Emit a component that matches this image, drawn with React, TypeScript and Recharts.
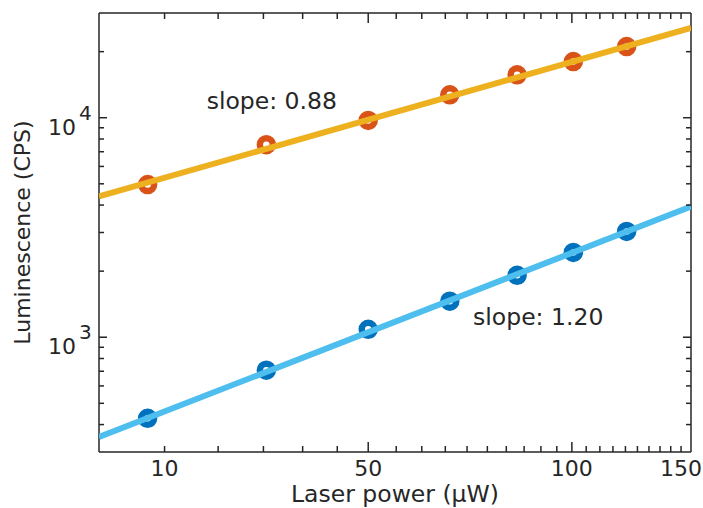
import React from 'react';
import { ComposedChart, Line, XAxis, YAxis, ReferenceDot } from 'recharts';

// ---- data (x is the position on the log-scaled power axis) ----
const powerPos = [4.72, 7.07, 10, 13.2, 16.6, 20.1, 24.1];
const orangeCounts = [4960, 7540, 9720, 12720, 15690, 18030, 21090];
const blueCounts = [427, 708, 1087, 1459, 1914, 2435, 3034];

const fitPos = [4, 30];
const orangeFit = [4380, 25640];
const blueFit = [351, 3940];

const xDomain = [4, 30];
const yDomain = [300, 30000];

const xMinorTicks = [5, 6, 7, 8, 9, 10, 11, 12, 13, 14, 15, 16, 17, 18, 19, 20, 21, 22, 23, 24, 25, 26, 27, 28, 29];
const xLabelTicks = [5, 10, 20, 29];
const xTickLabels = ['10', '50', '100', '150'];
const xLongTicks = [10, 20];

const yTicks = [400, 500, 600, 700, 800, 900, 1000, 2000, 3000, 4000, 5000, 6000, 7000, 8000, 9000, 10000, 20000];
const yMajorTicks = [1000, 10000];
const yExponents = ['3', '4'];

const slopeLabels = ['slope: 0.88', 'slope: 1.20'];
const slopeAnchorX = [5.77, 14.29];
const slopeAnchorY = [10990, 1134];

const orangeData = powerPos.map((x, i) => ({ x, y: orangeCounts[i] }));
const blueData = powerPos.map((x, i) => ({ x, y: blueCounts[i] }));
const orangeFitData = fitPos.map((x, i) => ({ x, y: orangeFit[i] }));
const blueFitData = fitPos.map((x, i) => ({ x, y: blueFit[i] }));

const AXIS = '#262626';
const FONT = '"DejaVu Sans", Verdana, sans-serif';
const ORANGE_M = '#D95319';
const ORANGE_L = '#EDB120';
const BLUE_M = '#0072BD';
const BLUE_L = '#4DBEEE';

const TICK_SIZE = 6;
const TICK_MARGIN = 2;
const OFF = TICK_SIZE + TICK_MARGIN;

const makeXTick = (side: 'bottom' | 'top') => (props: any) => {
  const { x, y, payload } = props;
  const v = payload.value;
  const len = xLongTicks.includes(v) ? 10 : 6;
  const pos = side === 'bottom' ? y - OFF : y + OFF;
  const dir = side === 'bottom' ? -1 : 1;
  const idx = xLabelTicks.indexOf(v);
  return (
    <g>
      <line x1={x} x2={x} y1={pos} y2={pos + dir * len} stroke={AXIS} strokeWidth={1.5} />
      {side === 'bottom' && idx >= 0 && (
        <text x={x} y={pos + 24} textAnchor="middle" fontFamily={FONT} fontSize={22} fill={AXIS}>
          {xTickLabels[idx]}
        </text>
      )}
    </g>
  );
};

const makeYTick = (side: 'left' | 'right') => (props: any) => {
  const { x, y, payload } = props;
  const v = payload.value;
  const mi = yMajorTicks.indexOf(v);
  const len = mi >= 0 ? 8 : 5;
  const pos = side === 'left' ? x + OFF : x - OFF;
  const dir = side === 'left' ? 1 : -1;
  return (
    <g>
      <line x1={pos} x2={pos + dir * len} y1={y} y2={y} stroke={AXIS} strokeWidth={1.5} />
      {side === 'left' && mi >= 0 && (
        <g>
          <text x={pos - 23} y={y + 17} textAnchor="end" fontFamily={FONT} fontSize={22} fill={AXIS}>
            10
          </text>
          <text x={pos - 20} y={y + 2} textAnchor="start" fontFamily={FONT} fontSize={20} fill={AXIS}>
            {yExponents[mi]}
          </text>
        </g>
      )}
    </g>
  );
};

const slopeText = (label: string) => (props: any) => (
  <text x={props.cx} y={props.cy} textAnchor="start" fontFamily={FONT} fontSize={23.5} fill={AXIS}>
    {label}
  </text>
);

const commonX = {
  type: 'number' as const,
  dataKey: 'x',
  scale: 'log' as const,
  domain: xDomain,
  allowDataOverflow: true,
  ticks: xMinorTicks,
  interval: 0 as const,
  tickSize: TICK_SIZE,
  tickMargin: TICK_MARGIN,
  tickLine: false,
  axisLine: { stroke: AXIS, strokeWidth: 1.5 },
};

const commonY = {
  type: 'number' as const,
  dataKey: 'y',
  scale: 'log' as const,
  domain: yDomain,
  allowDataOverflow: true,
  ticks: yTicks,
  interval: 0 as const,
  tickSize: TICK_SIZE,
  tickMargin: TICK_MARGIN,
  tickLine: false,
  axisLine: { stroke: AXIS, strokeWidth: 1.5 },
};

export default function App() {
  return (
    <div style={{ position: 'absolute', left: 0, top: 0, background: '#fff' }}>
      <ComposedChart width={703} height={508} margin={{ top: 12, right: 11, left: 0, bottom: 0 }}>
        <XAxis
          xAxisId={0}
          {...commonX}
          tick={makeXTick('bottom')}
          height={56}
          label={{ value: 'Laser power (μW)', position: 'insideBottom', offset: 6, fontFamily: FONT, fontSize: 23.5, fill: AXIS }}
        />
        <XAxis xAxisId="top" orientation="top" {...commonX} tick={makeXTick('top')} height={1} />
        <YAxis
          yAxisId={0}
          {...commonY}
          tick={makeYTick('left')}
          width={99}
          label={{ value: 'Luminescence (CPS)', angle: -90, position: 'insideLeft', offset: 22, style: { textAnchor: 'middle' }, fontFamily: FONT, fontSize: 22, fill: AXIS }}
        />
        <YAxis yAxisId="right" orientation="right" {...commonY} tick={makeYTick('right')} width={1} />
        <Line
          data={orangeData}
          dataKey="y"
          stroke="none"
          strokeWidth={0}
          dot={{ r: 6.5, stroke: ORANGE_M, strokeWidth: 6.5, fill: 'none' }}
          activeDot={false}
          isAnimationActive={false}
        />
        <Line
          data={blueData}
          dataKey="y"
          stroke="none"
          strokeWidth={0}
          dot={{ r: 6.5, stroke: BLUE_M, strokeWidth: 6.5, fill: 'none' }}
          activeDot={false}
          isAnimationActive={false}
        />
        <Line
          data={orangeFitData}
          dataKey="y"
          type="linear"
          stroke={ORANGE_L}
          strokeWidth={6}
          dot={false}
          activeDot={false}
          isAnimationActive={false}
          zIndex={700}
        />
        <Line
          data={blueFitData}
          dataKey="y"
          type="linear"
          stroke={BLUE_L}
          strokeWidth={6}
          dot={false}
          activeDot={false}
          isAnimationActive={false}
          zIndex={700}
        />
        <ReferenceDot x={slopeAnchorX[0]} y={slopeAnchorY[0]} r={0} shape={slopeText(slopeLabels[0])} />
        <ReferenceDot x={slopeAnchorX[1]} y={slopeAnchorY[1]} r={0} shape={slopeText(slopeLabels[1])} />
      </ComposedChart>
    </div>
  );
}
